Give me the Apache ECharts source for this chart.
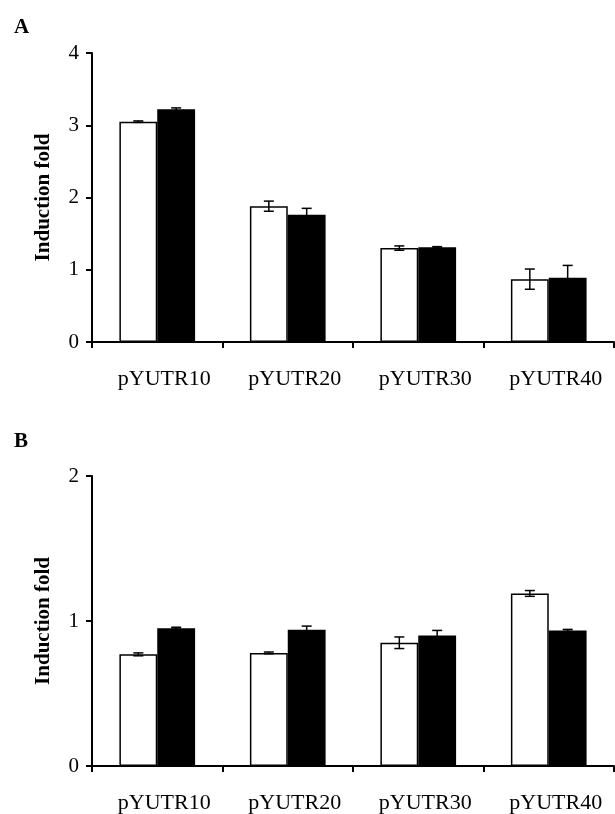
<!DOCTYPE html>
<html>
<head>
<meta charset="utf-8">
<script src="https://cdn.jsdelivr.net/npm/echarts@6/dist/echarts.min.js"></script>
<style>
html,body{margin:0;padding:0;background:#fff;}
#chart{width:615px;height:814px;}
</style>
</head>
<body>
<div id="chart"></div>
<script>
const categories = ['pYUTR10', 'pYUTR20', 'pYUTR30', 'pYUTR40'];
const aTicks = [0, 1, 2, 3, 4];
const bTicks = [0, 1, 2];
const aWhite = [3.05, 1.88, 1.30, 0.87];
const aWhiteErr = [0.01, 0.07, 0.03, 0.14];
const aBlack = [3.22, 1.76, 1.31, 0.89];
const aBlackErr = [0.02, 0.09, 0.01, 0.17];
const bWhite = [0.77, 0.78, 0.85, 1.19];
const bWhiteErr = [0.01, 0.006, 0.04, 0.02];
const bBlack = [0.95, 0.94, 0.90, 0.935];
const bBlackErr = [0.007, 0.025, 0.035, 0.007];
const yName = 'Induction fold';

const FONT = 'Liberation Serif';
const BAR_FRAC = 0.29;

function errData(vals, errs) {
  return vals.map((v, i) => [i, v, errs[i]]);
}
function errSeries(vals, errs, sign, xi, yi) {
  return {
    type: 'custom', xAxisIndex: xi, yAxisIndex: yi, z: 10,
    data: errData(vals, errs),
    encode: { x: 0, y: 1 },
    renderItem: function (params, api) {
      const idx = api.value(0), v = api.value(1), e = api.value(2);
      const bw = api.size([1, 0])[0] * BAR_FRAC;
      const x = api.coord([idx, v])[0] + sign * bw / 2;
      const yt = api.coord([idx, v + e])[1];
      const yb = api.coord([idx, v - e])[1];
      const cap = 5;
      const st = { stroke: '#000', lineWidth: 1.5 };
      return {
        type: 'group',
        children: [
          { type: 'line', shape: { x1: x, y1: yt, x2: x, y2: yb }, style: st },
          { type: 'line', shape: { x1: x - cap, y1: yt, x2: x + cap, y2: yt }, style: st },
          { type: 'line', shape: { x1: x - cap, y1: yb, x2: x + cap, y2: yb }, style: st }
        ]
      };
    }
  };
}
function xAxis(gi) {
  return {
    type: 'category', gridIndex: gi, data: categories,
    axisLine: { lineStyle: { color: '#000', width: 2 } },
    axisTick: { show: true, length: 6, lineStyle: { color: '#000', width: 2 } },
    axisLabel: { color: '#000', fontFamily: FONT, fontSize: 22, margin: 26, padding: [0, 0, 0, 14] },
    splitLine: { show: false }
  };
}
function yAxis(gi, ticks) {
  return {
    type: 'value', gridIndex: gi, min: ticks[0], max: ticks[ticks.length - 1], interval: 1,
    name: yName, nameLocation: 'middle', nameGap: 38,
    nameTextStyle: { color: '#000', fontFamily: FONT, fontWeight: 'bold', fontSize: 21 },
    axisLine: { show: true, lineStyle: { color: '#000', width: 2 } },
    axisTick: { show: true, length: 6, lineStyle: { color: '#000', width: 2 } },
    axisLabel: { color: '#000', fontFamily: FONT, fontSize: 21, margin: 13 },
    splitLine: { show: false }
  };
}
function barSeries(vals, black, xi, yi) {
  return {
    type: 'bar', xAxisIndex: xi, yAxisIndex: yi, data: vals,
    barGap: '0%', barCategoryGap: '42%',
    itemStyle: black ? { color: '#000', borderColor: '#000', borderWidth: 1.5 }
                     : { color: '#fff', borderColor: '#000', borderWidth: 1.5 },
    emphasis: { disabled: true }
  };
}

const chart = echarts.init(document.getElementById('chart'), null, { renderer: 'canvas' });
chart.setOption({
  animation: false,
  backgroundColor: '#fff',
  title: [
    { text: 'A', left: 9, top: 12, textStyle: { fontFamily: FONT, fontWeight: 'bold', fontSize: 21, color: '#000' } },
    { text: 'B', left: 9, top: 426, textStyle: { fontFamily: FONT, fontWeight: 'bold', fontSize: 21, color: '#000' } }
  ],
  grid: [
    { left: 92, right: 1, top: 53, height: 289 },
    { left: 92, right: 1, top: 476, height: 292 }
  ],
  xAxis: [xAxis(0), xAxis(1)],
  yAxis: [yAxis(0, aTicks), yAxis(1, bTicks)],
  series: [
    barSeries(aWhite, false, 0, 0),
    barSeries(aBlack, true, 0, 0),
    errSeries(aWhite, aWhiteErr, -1, 0, 0),
    errSeries(aBlack, aBlackErr, 1, 0, 0),
    barSeries(bWhite, false, 1, 1),
    barSeries(bBlack, true, 1, 1),
    errSeries(bWhite, bWhiteErr, -1, 1, 1),
    errSeries(bBlack, bBlackErr, 1, 1, 1)
  ]
});
</script>
</body>
</html>
